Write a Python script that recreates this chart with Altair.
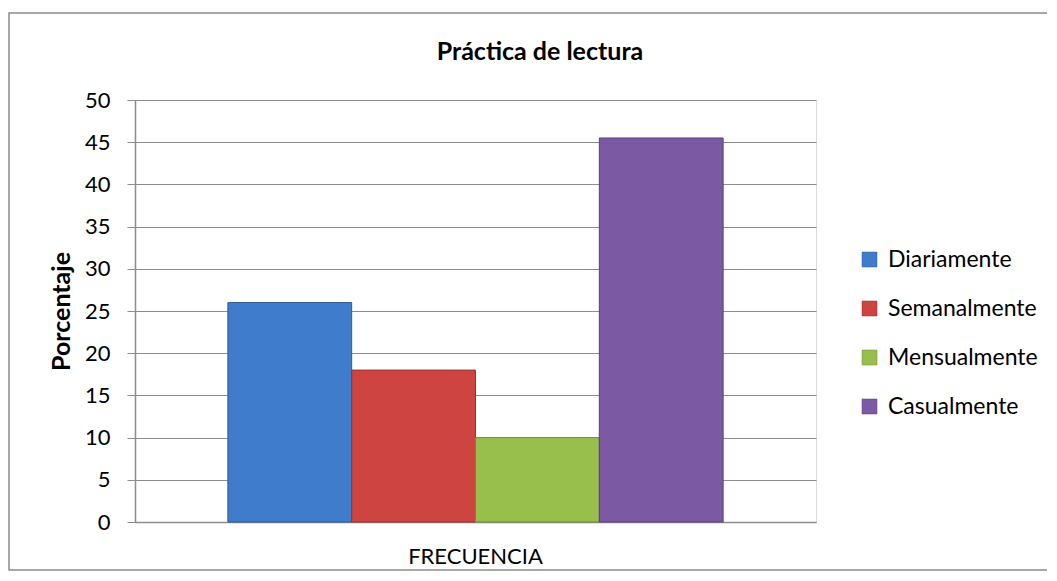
import altair as alt
import pandas as pd

series = ["Diariamente", "Semanalmente", "Mensualmente", "Casualmente"]
values = [26, 18, 10, 45.5]
group = "FRECUENCIA"
chart_title = "Práctica de lectura"
colors = ["#3F7DCC", "#CE4440", "#98BE4C", "#7B5AA3"]
strokes = ["#2E5C96", "#963230", "#6F8C38", "#5A4278"]
y_ticks = [0, 5, 10, 15, 20, 25, 30, 35, 40, 45, 50]

df = pd.DataFrame({"grupo": [group] * len(series), "serie": series, "valor": values})

FONT = "Lato"

bars = alt.Chart(df).mark_bar(strokeWidth=1).encode(
    x=alt.X("grupo:N", title=None,
            scale=alt.Scale(paddingInner=0, paddingOuter=0.1875),
            axis=alt.Axis(labelAngle=0, ticks=False, labelPadding=24, labelFontSize=22,
                          labelColor="#000000", domainColor="#8C8C8C", domainWidth=1.5,
                          labelFont=FONT)),
    xOffset=alt.XOffset("serie:N", sort=series,
                        scale=alt.Scale(paddingInner=0, paddingOuter=0)),
    y=alt.Y("valor:Q", title="Porcentaje",
            scale=alt.Scale(domain=[0, 50], nice=False),
            axis=alt.Axis(values=y_ticks, tickSize=8, tickColor="#8C8C8C", domainColor="#8C8C8C",
                          domainWidth=1.5, gridColor="#8C8C8C", gridWidth=1.2,
                          labelFontSize=22, labelColor="#000000", labelPadding=17,
                          titleFontSize=25, titleFontWeight="bold", titleColor="#000000",
                          titlePadding=10, labelFont=FONT, titleFont=FONT)),
    color=alt.Color("serie:N", sort=series,
                    scale=alt.Scale(domain=series, range=colors),
                    legend=alt.Legend(title=None, orient="none", legendX=723, legendY=148,
                                      symbolType="square", symbolSize=225, symbolStrokeWidth=0.5,
                                      labelFontSize=23, labelFont=FONT, labelColor="#000000",
                                      labelOffset=7, rowPadding=25)),
    stroke=alt.Stroke("serie:N", sort=series,
                      scale=alt.Scale(domain=series, range=strokes), legend=None),
)

one = pd.DataFrame({"t": [chart_title]})

border = alt.Chart(one).mark_rect(
    fill=None, stroke="#8C8C8C", strokeWidth=1.5
).encode(
    x=alt.value(-126), x2=alt.value(914), y=alt.value(-87), y2=alt.value(470)
)

title = alt.Chart(one).mark_text(
    font=FONT, fontSize=25, fontWeight="bold", color="#000000",
    align="center", baseline="alphabetic"
).encode(
    text="t:N", x=alt.value(405), y=alt.value(-40)
)

chart = alt.layer(border, bars, title).properties(
    width=681,
    height=422,
    autosize=alt.AutoSizeParams(type="none"),
    padding={"left": 127, "top": 92, "right": 231, "bottom": 50},
).configure_view(stroke=None).configure(font=FONT)

chart.save("out.html", embed_options={"renderer": "svg", "actions": False})
